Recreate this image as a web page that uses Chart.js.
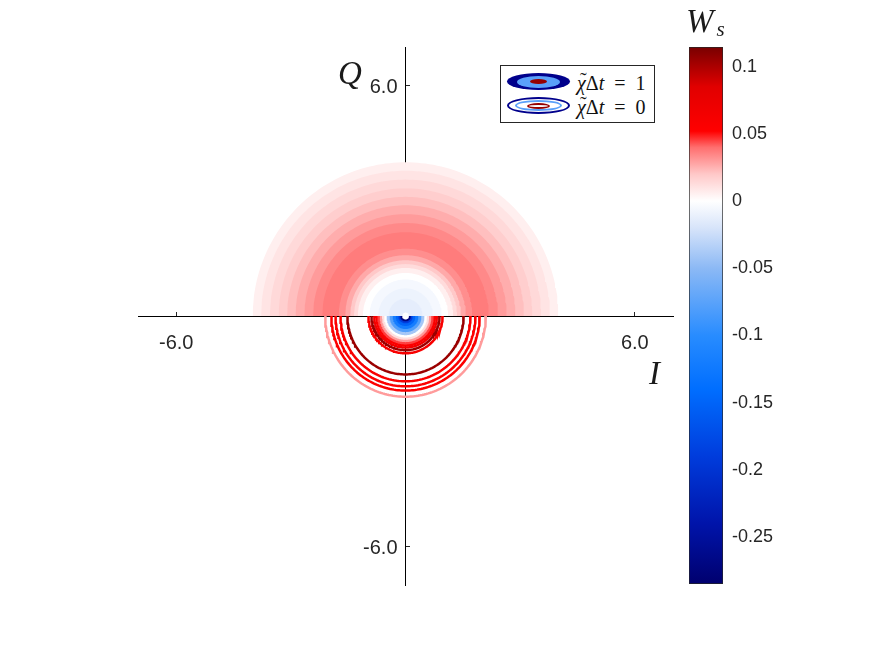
<!DOCTYPE html>
<html lang="en">
<head>
<meta charset="UTF-8">
<title>Wigner function W_s</title>
<script src="https://cdn.jsdelivr.net/npm/chart.js"></script>
<style>
    body { margin: 0; background: #ffffff; }
    #wrap { position: relative; width: 875px; height: 657px; overflow: hidden; }
    #wrap canvas { position: absolute; left: 0; top: 0; }
    .math { position: absolute; font-family: 'Liberation Serif', 'DejaVu Serif', serif; font-style: italic; color: #1a1a1a; line-height: 1; white-space: nowrap; }
    #legend {
        position: absolute; left: 500px; top: 65px; width: 153px; height: 56px;
        border: 1px solid #262626; background: #fff;
    }
    .row { position: absolute; left: 6px; height: 20px; }
    .ell { position: absolute; border-radius: 50%; box-sizing: border-box; }
    .ltxt { position: absolute; left: 70px; top: -1px; font-family: 'Liberation Serif', 'DejaVu Serif', serif; font-size: 20px; color: #111; white-space: nowrap; }
    .ltxt i { font-style: italic; }
    .chi { position: relative; display: inline-block; }
    .chi b { position: absolute; left: 3px; top: -3px; font-weight: normal; font-style: normal; }
</style>
</head>
<body>
<div id="wrap">
    <canvas id="main" width="875" height="657"></canvas>
    <canvas id="cbar" width="875" height="657"></canvas>
    <div class="math" style="left:338px; top:57px; font-size:33px;">Q</div>
    <div class="math" style="left:649px; top:357px; font-size:33px;">I</div>
    <div class="math" style="left:686px; top:5px; font-size:33px;">W<span style="font-size:21px; position:relative; top:4px; left:3px;">s</span></div>
    <div id="legend">
        <div class="row" style="top:7px;">
            <div class="ell" style="left:0; top:0; width:63px; height:17px; background:#00008c;"></div>
            <div class="ell" style="left:10px; top:2.5px; width:43px; height:12px; background:#5aa0fa;"></div>
            <div class="ell" style="left:23px; top:6px; width:17px; height:5px; background:#960000;"></div>
            <div class="ltxt"><span class="chi"><i>χ</i><b>˜</b></span>Δ<i>t</i>&nbsp;&nbsp;=&nbsp;&nbsp;1</div>
        </div>
        <div class="row" style="top:31px;">
            <div class="ell" style="left:0; top:0; width:63px; height:17px; border:2.5px solid #00008c;"></div>
            <div class="ell" style="left:8px; top:3px; width:47px; height:11px; border:2px solid #5aa0fa;"></div>
            <div class="ell" style="left:20px; top:5.5px; width:23px; height:6px; border:2px solid #960000;"></div>
            <div class="ltxt"><span class="chi"><i>χ</i><b>˜</b></span>Δ<i>t</i>&nbsp;&nbsp;=&nbsp;&nbsp;0</div>
        </div>
    </div>
</div>
<script>
    // colormap (value -> rgb)
    const cmapValues = [-0.285, -0.24, -0.19, -0.14, -0.10, -0.05, -0.02, 0, 0.02, 0.04, 0.052, 0.085, 0.1146];
    const cmapColors = [
        [0, 0, 110], [0, 20, 170], [0, 60, 220], [0, 110, 255], [40, 140, 255], [140, 185, 245],
        [215, 228, 250], [255, 255, 255], [255, 200, 200], [255, 110, 110], [255, 0, 0], [225, 0, 0], [120, 0, 0]
    ];
    const cbMin = -0.285;
    const cbMax = 0.1146;
    const cbTicks = [-0.25, -0.2, -0.15, -0.1, -0.05, 0, 0.05, 0.1];

    // axis ticks
    const xTicks = [-6, 6];
    const yTicks = [-6, 6];

    // chi*dt = 1 : filled contours in the upper half (outer radius of each band, level)
    const upperRadii  = [4.00, 3.78, 3.55, 3.32, 3.10, 2.88, 2.65, 2.42, 2.18, 1.75, 1.58, 1.45, 1.35, 1.25, 1.12, 0.95, 0.72, 0.45, 0.09];
    const upperLevels = [0.006, 0.010, 0.014, 0.018, 0.022, 0.026, 0.030, 0.034, 0.037, 0.033, 0.027, 0.020, 0.013, 0.006, 0.0, -0.005, -0.009, -0.013, 0.0];

    // chi*dt = 0 : lower half, dense inner contours (drawn filled) and contour lines
    const lowerFillRadii  = [0.80, 0.74, 0.68, 0.62, 0.56, 0.50, 0.42, 0.34, 0.26, 0.19, 0.14, 0.09];
    const lowerFillLevels = [0.055, 0.045, 0.03, 0.012, 0.0, -0.04, -0.08, -0.12, -0.15, -0.19, -0.27, 0.0];
    const lowerLineRadii  = [0.97, 0.89, 0.82, 1.52, 1.70, 1.83, 1.94, 2.10];
    const lowerLineLevels = [0.06, 0.105, 0.065, 0.105, 0.06, 0.055, 0.055, 0.03];

    function colorAt(v) {
        if (v <= cmapValues[0]) return 'rgb(' + cmapColors[0].join(',') + ')';
        for (let i = 1; i < cmapValues.length; i++) {
            if (v <= cmapValues[i]) {
                const t = (v - cmapValues[i - 1]) / (cmapValues[i] - cmapValues[i - 1]);
                const a = cmapColors[i - 1], b = cmapColors[i];
                return 'rgb(' + a.map((c, k) => Math.round(c + (b[k] - c) * t)).join(',') + ')';
            }
        }
        return 'rgb(' + cmapColors[cmapColors.length - 1].join(',') + ')';
    }

    // half circle of radius r, upper (sign 1) or lower (sign -1)
    function halfCircle(r, sign) {
        const pts = [];
        const n = 120;
        for (let i = 0; i <= n; i++) {
            const a = Math.PI * i / n;
            pts.push({ x: r * Math.cos(a), y: sign * r * Math.sin(a) });
        }
        return pts;
    }

    const datasets = [];
    upperRadii.forEach((r, i) => {
        datasets.push({
            data: halfCircle(r, 1), fill: 'origin', backgroundColor: colorAt(upperLevels[i]),
            borderColor: 'transparent', borderWidth: 0, pointRadius: 0, order: Math.round(r * 1000) + 10
        });
    });
    lowerFillRadii.forEach((r, i) => {
        datasets.push({
            data: halfCircle(r, -1), fill: 'origin', backgroundColor: colorAt(lowerFillLevels[i]),
            borderColor: 'transparent', borderWidth: 0, pointRadius: 0, order: Math.round(r * 1000) + 10
        });
    });
    lowerLineRadii.forEach((r, i) => {
        datasets.push({
            data: halfCircle(r, -1), fill: false, borderColor: colorAt(lowerLineLevels[i]),
            borderWidth: 2.5, pointRadius: 0, order: 0
        });
    });

    const tickFont = { family: "'Liberation Sans', Arial, sans-serif", size: 20 };

    new Chart(document.getElementById('main').getContext('2d'), {
        type: 'line',
        data: { datasets: datasets },
        options: {
            responsive: false,
            animation: false,
            layout: { padding: { left: 138, top: 47, right: 202, bottom: 72 } },
            plugins: { legend: { display: false }, tooltip: { enabled: false } },
            scales: {
                x: {
                    type: 'linear', min: -7, max: 7, position: 'center', z: 1,
                    afterBuildTicks: s => { s.ticks = xTicks.map(v => ({ value: v })); },
                    grid: { drawOnChartArea: false, tickLength: -5, color: '#262626' },
                    border: { color: '#000000', width: 1 },
                    ticks: { callback: v => v.toFixed(1), font: tickFont, color: '#262626', padding: 20, maxRotation: 0 }
                },
                y: {
                    type: 'linear', min: -7, max: 7, position: 'center', z: 1,
                    afterBuildTicks: s => { s.ticks = yTicks.map(v => ({ value: v })); },
                    grid: { drawOnChartArea: false, tickLength: -5, color: '#262626' },
                    border: { color: '#000000', width: 1 },
                    ticks: { callback: v => v.toFixed(1), font: tickFont, color: '#262626', padding: 13, labelOffset: 2 }
                }
            }
        }
    });

    // colorbar
    new Chart(document.getElementById('cbar').getContext('2d'), {
        type: 'bar',
        data: {
            labels: ['W'],
            datasets: [{
                data: [[cbMin, cbMax]],
                backgroundColor: c => {
                    const ch = c.chart;
                    if (!ch.chartArea) return '#ffffff';
                    const ys = ch.scales.y;
                    const g = ch.ctx.createLinearGradient(0, ys.getPixelForValue(cbMin), 0, ys.getPixelForValue(cbMax));
                    cmapValues.forEach((v, i) => g.addColorStop((v - cbMin) / (cbMax - cbMin), 'rgb(' + cmapColors[i].join(',') + ')'));
                    return g;
                },
                borderColor: '#262626', borderWidth: 1, borderSkipped: false,
                barPercentage: 1, categoryPercentage: 1
            }]
        },
        options: {
            responsive: false,
            animation: false,
            layout: { padding: { left: 689, top: 47, right: 72, bottom: 73 } },
            plugins: { legend: { display: false }, tooltip: { enabled: false } },
            scales: {
                x: { display: false },
                y: {
                    position: 'right', min: cbMin, max: cbMax, z: 1,
                    afterBuildTicks: s => { s.ticks = cbTicks.map(v => ({ value: v })); },
                    afterFit: s => { s.width = 80; },
                    grid: { drawOnChartArea: false, tickLength: -5, color: '#262626' },
                    border: { display: false },
                    ticks: { callback: v => String(+v.toFixed(2)), font: { family: "'Liberation Sans', Arial, sans-serif", size: 18 }, color: '#262626', padding: 14 }
                }
            }
        }
    });
</script>
</body>
</html>
